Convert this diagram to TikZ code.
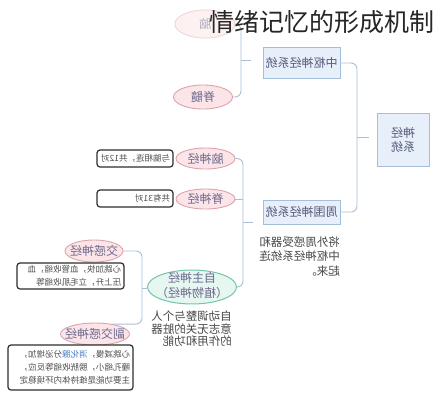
\documentclass[tikz,border=0pt]{standalone}
\usepackage{fontspec}
\setmainfont{Noto Sans CJK SC}
\usetikzlibrary{shapes.geometric}
\definecolor{linec}{HTML}{A9BFD6}
\definecolor{pinkf}{HTML}{FBE5E8}
\definecolor{pinkd}{HTML}{DDA3AA}
\definecolor{ellt}{HTML}{6E6A8E}
\definecolor{bluef}{HTML}{E7F0FA}
\definecolor{blued}{HTML}{A3BFDC}
\definecolor{boxt}{HTML}{555A7A}
\definecolor{greenf}{HTML}{E6F6F1}
\definecolor{greend}{HTML}{72C6A6}
\definecolor{noted}{HTML}{2E2E2E}
\definecolor{notet}{HTML}{505050}
\definecolor{plaint}{HTML}{484848}
\definecolor{linkc}{HTML}{4A7CC4}
\definecolor{titlec}{HTML}{262626}
\newcommand\ctx[1]{\makebox[0pt]{#1}}
\tikzset{
  conn/.style={draw=linec, line width=0.9pt, rounded corners=6pt},
  pinkell/.style={ellipse, draw=pinkd, fill=pinkf, line width=0.9pt, inner sep=0pt,
    text=ellt, font=\fontsize{12}{14}\selectfont},
  fadedell/.style={pinkell, draw=pinkd!45, fill=pinkf!55, text=ellt!55},
  greenell/.style={ellipse, draw=greend, fill=greenf, line width=1pt, inner xsep=0pt,
    inner ysep=-3pt, text=ellt, align=center, font=\fontsize{12}{15}\selectfont},
  bluebox/.style={rectangle, draw=blued, fill=bluef, line width=0.8pt, inner sep=0pt,
    text=boxt, align=center, font=\fontsize{12}{14}\selectfont},
  notebox/.style={rectangle, rounded corners=3pt, draw=noted, line width=1.2pt, fill=white,
    inner xsep=3pt, inner ysep=1pt, align=left, text=notet, font=\fontsize{8.5}{13}\selectfont},
  plaintext/.style={inner sep=0pt, align=left, text=plaint},
  titletext/.style={inner sep=0pt, text=titlec, font=\fontsize{25}{28}\selectfont}
}
\begin{document}
\begin{tikzpicture}[x=1pt,y=-1pt]
\fill[white] (0,0) rectangle (438,400);
\useasboundingbox (0,0) rectangle (438,400);
\begin{scope}[xshift=438pt, xscale=-1, transform shape]
  % nodes
  \node[bluebox, minimum width=52pt, minimum height=53pt] (root) at (35,139.5) {神经\\系统};
  \node[bluebox, minimum width=77pt, minimum height=31pt] (zhong) at (136.5,63) {中枢神经系统};
  \node[bluebox, minimum width=77pt, minimum height=24pt] (zhou) at (136.5,212) {周围神经系统};
  \node[fadedell, minimum width=60pt, minimum height=28pt] (nao) at (233,24) {\ctx{脑}};
  \node[pinkell, minimum width=59pt, minimum height=24pt] (jisui) at (235,97) {\ctx{脊髓}};
  \node[pinkell, minimum width=59pt, minimum height=21pt] (naoshen) at (232.5,158.5) {\ctx{脑神经}};
  \node[pinkell, minimum width=59pt, minimum height=20pt] (jishen) at (232.5,199) {\ctx{脊神经}};
  \node[greenell, minimum width=89pt, minimum height=33pt] (zizhu) at (246,287)
    {\ctx{\begin{tabular}{@{}c@{}}自主神经\\（植物神经）\end{tabular}}};
  \node[pinkell, minimum width=58pt, minimum height=22pt] (jiaogan) at (344,251) {\ctx{交感神经}};
  \node[pinkell, minimum width=69pt, minimum height=22pt] (fujiao) at (343,334) {\ctx{副交感神经}};
  % notes
  \node[notebox, text width=70pt, minimum height=17pt] (n1) at (303,158.5) {与脑相连，共12对};
  \node[notebox, text width=70pt, minimum height=17pt] (n2) at (303,198.5) {共有31对};
  \node[notebox, text width=101pt, minimum height=26pt] (n3) at (367.5,276)
    {心跳加快，血管收缩，血\\压上升，立毛肌收缩等};
  \node[notebox, text width=119pt, minimum height=45pt] (n4) at (367.5,367.5)
    {心跳减慢，\textcolor{linkc}{消化腺}分泌增加，\\瞳孔缩小，膀胱收缩等反应，\\主要功能是维持体内环境稳定};
  % plain texts
  \node[plaintext, anchor=north west, font=\fontsize{11.5}{14.5}\selectfont] (zhoutxt) at (98,236.5)
    {将外周感受器和\\中枢神经系统连\\起来。};
  \node[plaintext, anchor=north west, font=\fontsize{11.5}{12.8}\selectfont] (zizhutxt) at (206,310.5)
    {自动调整与个人\\意志无关的脏器\\的作用和功能};
  % braces
  \coordinate (b1) at (81,137.5);   \coordinate (t1) at (69,137.5);
  \coordinate (b2) at (197,60.5);   \coordinate (t2) at (187,60.5);
  \coordinate (b3) at (195,222.75); \coordinate (t3) at (185,222.75);
  \coordinate (b4) at (296,288);    \coordinate (t4) at (291,288);
  \draw[conn] (zhong.west) -| (b1) |- (zhou.west);
  \draw[conn] (b1) -- (t1);
  \draw[conn] (nao.west) -| (b2) |- (jisui.west);
  \draw[conn] (b2) -- (t2);
  \draw[conn] (naoshen.west) -| (b3) |- (zizhu.west);
  \draw[conn] (jishen.west) -- (jishen.west -| b3);
  \draw[conn] (b3) -- (t3);
  \draw[conn] (jiaogan.west) -| (b4) |- (fujiao.150);
  \draw[conn] (b4) -- (t4);
\end{scope}
\node[titletext] (title) at (322,22) {情绪记忆的形成机制};
\end{tikzpicture}
\end{document}
